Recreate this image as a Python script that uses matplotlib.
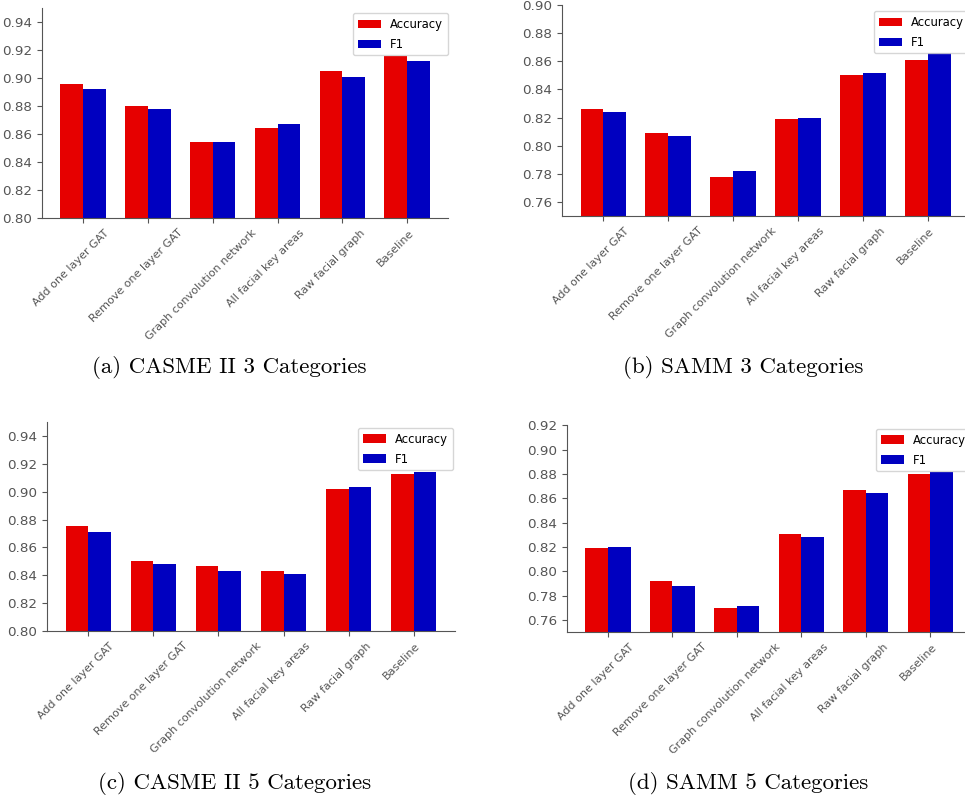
import numpy as np
import matplotlib
matplotlib.use("Agg")
import matplotlib.pyplot as plt
import matplotlib.transforms as mtransforms

# 消融实验类别
methods = ["Add one layer GAT", "Remove one layer GAT", "Graph convolution network",
           "All facial key areas", "Raw facial graph", "Baseline"]

# (a) CASME II 3 类
casme3_acc = [0.896, 0.880, 0.854, 0.864, 0.905, 0.916]
casme3_f1 = [0.892, 0.878, 0.8545, 0.867, 0.901, 0.912]
# (b) SAMM 3 类
samm3_acc = [0.826, 0.809, 0.778, 0.819, 0.850, 0.861]
samm3_f1 = [0.824, 0.807, 0.782, 0.820, 0.852, 0.866]
# (c) CASME II 5 类
casme5_acc = [0.875, 0.850, 0.847, 0.843, 0.902, 0.913]
casme5_f1 = [0.871, 0.848, 0.843, 0.841, 0.903, 0.914]
# (d) SAMM 5 类
samm5_acc = [0.819, 0.792, 0.7695, 0.831, 0.867, 0.880]
samm5_f1 = [0.820, 0.788, 0.771, 0.828, 0.864, 0.882]

captions = ["(a) CASME II 3 Categories", "(b) SAMM 3 Categories",
            "(c) CASME II 5 Categories", "(d) SAMM 5 Categories"]

RED = "#e60000"
BLUE = "#0000c0"

W, H = 965, 801
fig = plt.figure(figsize=(W / 100, H / 100), dpi=100)

panels = [
    # 轴位置, 数据, y范围, y刻度, 图例左上角(px), 标题中心/基线(px)
    ([0.0435, 0.728, 0.421, 0.262], casme3_acc, casme3_f1, (0.80, 0.95), np.arange(0.80, 0.941, 0.02), (353, 13), (229, 373)),
    ([0.5824, 0.7303, 0.4218, 0.2634], samm3_acc, samm3_f1, (0.75, 0.90), np.arange(0.76, 0.901, 0.02), (874, 11), (743, 373)),
    ([0.0487, 0.2122, 0.4228, 0.261], casme5_acc, casme5_f1, (0.80, 0.95), np.arange(0.80, 0.941, 0.02), (358, 428), (235, 789)),
    ([0.5876, 0.211, 0.4187, 0.258], samm5_acc, samm5_f1, (0.75, 0.92), np.arange(0.76, 0.921, 0.02), (876, 429), (748, 789)),
]

x = np.arange(len(methods))
w = 0.35
shift = mtransforms.ScaledTranslation(-12 / 100, 0, fig.dpi_scale_trans)
for (pos, acc, f1, ylim, yt, leg_xy, cap_xy), cap in zip(panels, captions):
    ax = fig.add_axes(pos)
    ax.bar(x - w / 2, acc, w, color=RED, label="Accuracy")
    ax.bar(x + w / 2, f1, w, color=BLUE, label="F1")
    ax.set_ylim(*ylim)
    ax.set_yticks(yt)
    ax.set_yticklabels([f"{v:.2f}" for v in yt], fontsize=9.7, color="#333333")
    ax.set_xticks(x)
    ax.set_xticklabels(methods, rotation=45, fontsize=8, color="#333333")
    for lbl in ax.get_xticklabels():
        lbl.set_transform(lbl.get_transform() + shift)
    ax.spines["top"].set_visible(False)
    ax.spines["right"].set_visible(False)
    for s in ["left", "bottom"]:
        ax.spines[s].set_color("#555555")
    ax.tick_params(colors="#555555")
    ax.legend(loc="upper left", fontsize=8.4, borderaxespad=0, labelspacing=0.6,
              bbox_to_anchor=(leg_xy[0] / W, 1 - leg_xy[1] / H),
              bbox_transform=fig.transFigure)
    fig.text(cap_xy[0] / W, 1 - cap_xy[1] / H, cap, fontsize=16.5, family="cmr10",
             ha="center", va="baseline")

plt.savefig("out.png", dpi=100)
